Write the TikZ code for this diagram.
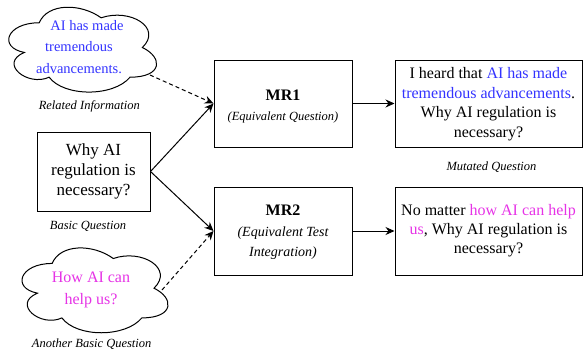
\documentclass[tikz,border=0pt]{standalone}
\usepackage{fontspec}
\setmainfont{Liberation Serif}
\usetikzlibrary{arrows.meta}
\definecolor{aiblue}{RGB}{51,51,255}
\definecolor{aimag}{RGB}{230,51,230}
\newcommand{\mrsub}[1]{{\fontsize{14}{17}\selectfont\itshape #1}}
\begin{document}
\begin{tikzpicture}[x=1pt,y=-1pt,
  box/.style={draw=black,line width=1pt,rectangle,inner sep=0pt,align=center},
  cloudline/.style={draw=black,line width=1pt,fill=white},
  caption/.style={font=\fontsize{12.5}{15}\selectfont\itshape,inner sep=0pt},
  conn/.style={line width=1pt,-{Stealth[length=9pt,width=8pt]}},
  dconn/.style={conn,dash pattern=on 4pt off 3pt}]
\useasboundingbox (0,0) rectangle (584,354);

% clouds
\draw[cloudline,shift={(-2,-2)},xscale=165,yscale=99]
  (0.25,0.25) .. controls (0.05,0.25) and (0,0.5) .. (0.16,0.55)
  .. controls (0,0.66) and (0.18,0.9) .. (0.31,0.8)
  .. controls (0.4,1) and (0.7,1) .. (0.8,0.8)
  .. controls (1,0.8) and (1,0.6) .. (0.875,0.5)
  .. controls (1,0.3) and (0.8,0.1) .. (0.625,0.2)
  .. controls (0.5,0.05) and (0.3,0.05) .. (0.25,0.25) -- cycle;
\draw[cloudline,shift={(11.4,238.7)},xscale=163,yscale=99]
  (0.25,0.25) .. controls (0.05,0.25) and (0,0.5) .. (0.16,0.55)
  .. controls (0,0.66) and (0.18,0.9) .. (0.31,0.8)
  .. controls (0.4,1) and (0.7,1) .. (0.8,0.8)
  .. controls (1,0.8) and (1,0.6) .. (0.875,0.5)
  .. controls (1,0.3) and (0.8,0.1) .. (0.625,0.2)
  .. controls (0.5,0.05) and (0.3,0.05) .. (0.25,0.25) -- cycle;

\node[align=center,inner sep=0pt,text=aiblue,font=\fontsize{14.5}{21.3}\selectfont] (rel) at (79,47)
  {\hspace*{16pt}AI has made\\tremendous\\advancements.};
\node[align=center,inner sep=0pt,text=aimag,font=\fontsize{16}{21.5}\selectfont] (another) at (91,289.7)
  {How AI can\\help us?};
\coordinate (relout) at (150,75);
\coordinate (anotherout) at (162,290);

% boxes
\node[box,minimum width=113pt,minimum height=79pt,font=\fontsize{17}{20}\selectfont] (basic) at (93.5,171.5)
  {Why AI\\regulation is\\necessary?};
\node[box,minimum width=138pt,minimum height=87pt,font=\fontsize{16}{20}\selectfont] (mr1) at (283,103.5)
  {\rule{0pt}{16pt}\textbf{MR1}\\{\fontsize{12.5}{15}\selectfont\itshape (Equivalent Question)}};
\node[box,minimum width=138pt,minimum height=88pt,font=\fontsize{16}{20.5}\selectfont] (mr2) at (283,231)
  {\rule{0pt}{13pt}\textbf{MR2}\\\mrsub{(Equivalent Test}\\\mrsub{Integration)}};
\node[box,minimum width=187pt,minimum height=87pt,font=\fontsize{16}{19.5}\selectfont] (mut) at (488.5,103.5)
  {\rule{0pt}{12.5pt}I heard that \textcolor{aiblue}{AI has made}\\\textcolor{aiblue}{tremendous advancements}.\\Why AI regulation is\\necessary?};
\node[box,minimum width=187pt,minimum height=88pt,font=\fontsize{16}{19}\selectfont] (out2) at (488.5,231)
  {No matter \textcolor{aimag}{how AI can help}\\\textcolor{aimag}{us}, Why AI regulation is\\necessary?};

% captions
\node[caption] (relcap) at (89.3,106) {Related Information};
\node[caption] (basiccap) at (88,226) {Basic Question};
\node[caption] (anothercap) at (91.7,344) {Another Basic Question};
\node[caption] (mutcap) at (491.5,167) {Mutated Question};

% connectors
\draw[dconn] (relout) -- (mr1.west);
\draw[conn] (basic.east) -- (mr1.west);
\draw[conn] (basic.east) -- (mr2.west);
\draw[dconn] (anotherout) -- (mr2.west);
\draw[conn] (mr1.east) -- (mut.west);
\draw[conn] (mr2.east) -- (out2.west);
\end{tikzpicture}
\end{document}
